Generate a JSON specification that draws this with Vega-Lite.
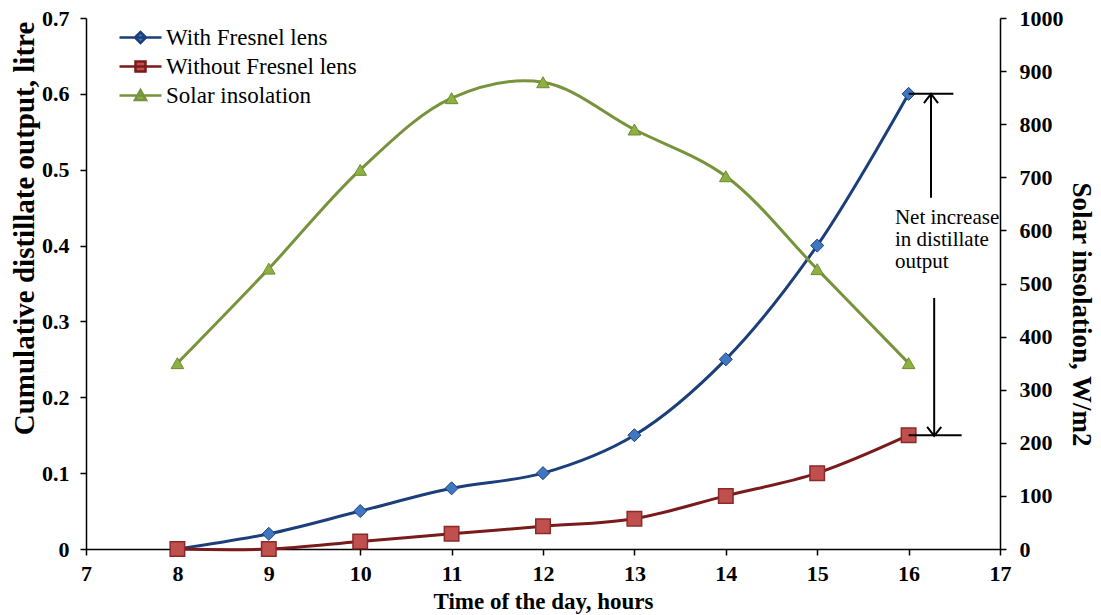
{
  "$schema": "https://vega.github.io/schema/vega-lite/v6.json",
  "autosize": {"type": "none"},
  "width": 914,
  "height": 531,
  "padding": {"left": 86, "top": 18, "right": 101, "bottom": 66},
  "background": "white",
  "datasets": {
    "main": [
      {"hour": 8, "series": "With Fresnel lens", "value": 0},
      {"hour": 9, "series": "With Fresnel lens", "value": 0.02},
      {"hour": 10, "series": "With Fresnel lens", "value": 0.05},
      {"hour": 11, "series": "With Fresnel lens", "value": 0.08},
      {"hour": 12, "series": "With Fresnel lens", "value": 0.1},
      {"hour": 13, "series": "With Fresnel lens", "value": 0.15},
      {"hour": 14, "series": "With Fresnel lens", "value": 0.25},
      {"hour": 15, "series": "With Fresnel lens", "value": 0.4},
      {"hour": 16, "series": "With Fresnel lens", "value": 0.6},
      {"hour": 8, "series": "Without Fresnel lens", "value": 0},
      {"hour": 9, "series": "Without Fresnel lens", "value": 0},
      {"hour": 10, "series": "Without Fresnel lens", "value": 0.01},
      {"hour": 11, "series": "Without Fresnel lens", "value": 0.02},
      {"hour": 12, "series": "Without Fresnel lens", "value": 0.03},
      {"hour": 13, "series": "Without Fresnel lens", "value": 0.04},
      {"hour": 14, "series": "Without Fresnel lens", "value": 0.07},
      {"hour": 15, "series": "Without Fresnel lens", "value": 0.1},
      {"hour": 16, "series": "Without Fresnel lens", "value": 0.15},
      {"hour": 8, "series": "Solar insolation", "value": 350},
      {"hour": 9, "series": "Solar insolation", "value": 528},
      {"hour": 10, "series": "Solar insolation", "value": 714},
      {"hour": 11, "series": "Solar insolation", "value": 849},
      {"hour": 12, "series": "Solar insolation", "value": 879},
      {"hour": 13, "series": "Solar insolation", "value": 790},
      {"hour": 14, "series": "Solar insolation", "value": 702},
      {"hour": 15, "series": "Solar insolation", "value": 527},
      {"hour": 16, "series": "Solar insolation", "value": 350}
    ],
    "rules": [
      {"hour": 16, "hour2": 16.49, "value": 0.6, "value2": 0.6},
      {"hour": 16, "hour2": 16.58, "value": 0.15, "value2": 0.15},
      {"hour": 16.245, "hour2": 16.245, "value": 0.6, "value2": 0.463},
      {"hour": 16.28, "hour2": 16.28, "value": 0.331, "value2": 0.149}
    ],
    "uphead": [{"hour": 16.245, "value": 0.6}],
    "downhead": [{"hour": 16.28, "value": 0.149}],
    "note": [{"hour": 15.85, "value": 0.451, "label": "Net increase\nin distillate\noutput"}]
  },
  "layer": [
    {
      "layer": [
        {
          "data": {"name": "main"},
          "transform": [{"filter": "datum.series !== 'Solar insolation'"}],
          "mark": {"type": "line", "interpolate": "catmull-rom", "strokeWidth": 3},
          "encoding": {
            "x": {"field": "hour", "type": "quantitative", "scale": {"domain": [7, 17], "nice": false, "zero": false},
                  "axis": {"title": "Time of the day, hours", "values": [7, 8, 9, 10, 11, 12, 13, 14, 15, 16, 17], "format": "d", "labelFlush": false, "labelPadding": 8, "titlePadding": 6, "titleFontSize": 23}},
            "y": {"field": "value", "type": "quantitative", "scale": {"domain": [0, 0.7], "nice": false},
                  "axis": {"orient": "left", "title": "Cumulative distillate output, litre", "values": [0, 0.1, 0.2, 0.3, 0.4, 0.5, 0.6, 0.7], "format": ".1~f", "labelFlush": false, "labelPadding": 11, "titlePadding": 2, "titleFontSize": 29, "titleY": 210}},
            "stroke": {"field": "series", "type": "nominal",
                       "scale": {"domain": ["With Fresnel lens", "Without Fresnel lens", "Solar insolation"], "range": ["#1C3F7C", "#7A1A1A", "#77933C"]},
                       "legend": {"orient": "none", "legendX": 43, "legendY": 8, "title": null, "labelFont": "Liberation Serif", "labelFontSize": 23, "labelColor": "black", "labelLimit": 400, "symbolSize": 100, "labelOffset": 14, "rowPadding": 5, "padding": 0, "symbolStrokeWidth": 2.5,
                                  "encode": {"symbols": {"update": {"fill": {"scale": "fill", "field": "value"}, "stroke": {"scale": "stroke", "field": "value"}, "opacity": {"value": 1}}}}}}
          }
        },
        {
          "data": {"name": "main"},
          "transform": [{"filter": "datum.series === 'With Fresnel lens'"}],
          "mark": {"type": "point", "shape": "diamond", "filled": true, "opacity": 1, "size": 170, "fill": "#3F78C0", "stroke": "#1C3F7C", "strokeWidth": 1},
          "encoding": {
            "x": {"field": "hour", "type": "quantitative"},
            "y": {"field": "value", "type": "quantitative"}
          }
        },
        {
          "data": {"name": "main"},
          "transform": [{"filter": "datum.series === 'Without Fresnel lens'"}],
          "mark": {"type": "point", "shape": "square", "filled": true, "opacity": 1, "size": 210, "fill": "#C0504D", "stroke": "#8B2A2A", "strokeWidth": 1.5},
          "encoding": {
            "x": {"field": "hour", "type": "quantitative"},
            "y": {"field": "value", "type": "quantitative"}
          }
        },
        {
          "data": {"name": "main"},
          "transform": [{"filter": "datum.series !== 'Solar insolation'"}],
          "mark": {"type": "point", "filled": true, "opacity": 0, "size": 10},
          "encoding": {
            "x": {"field": "hour", "type": "quantitative"},
            "y": {"field": "value", "type": "quantitative"},
            "fill": {"field": "series", "type": "nominal",
                     "scale": {"domain": ["With Fresnel lens", "Without Fresnel lens", "Solar insolation"], "range": ["#3F78C0", "#C0504D", "#8DB043"]},
                     "legend": {"orient": "none", "legendX": 43, "legendY": 8, "title": null, "labelFont": "Liberation Serif", "labelFontSize": 23, "labelColor": "black", "labelLimit": 400, "symbolSize": 100, "labelOffset": 14, "rowPadding": 5, "padding": 0, "symbolStrokeWidth": 2.5,
                                "encode": {"symbols": {"update": {"fill": {"scale": "fill", "field": "value"}, "stroke": {"scale": "stroke", "field": "value"}, "opacity": {"value": 1}}}}}},
            "shape": {"field": "series", "type": "nominal",
                      "scale": {"domain": ["With Fresnel lens", "Without Fresnel lens", "Solar insolation"],
                                "range": ["M-4.2,0H4.2M-1.1,0L0,-1.1L1.1,0L0,1.1Z", "M-4.2,0H4.2M-1,-1H1V1H-1Z", "M-4.2,0H4.2M0,-1.1L1.1,0.9H-1.1Z"]},
                      "legend": {"orient": "none", "legendX": 43, "legendY": 8, "title": null, "labelFont": "Liberation Serif", "labelFontSize": 23, "labelColor": "black", "labelLimit": 400, "symbolSize": 100, "labelOffset": 14, "rowPadding": 5, "padding": 0, "symbolStrokeWidth": 2.5,
                                 "encode": {"symbols": {"update": {"fill": {"scale": "fill", "field": "value"}, "stroke": {"scale": "stroke", "field": "value"}, "opacity": {"value": 1}}}}}}
          }
        },
        {
          "data": {"name": "rules"},
          "mark": {"type": "rule", "color": "black", "strokeWidth": 2},
          "encoding": {
            "x": {"field": "hour", "type": "quantitative"},
            "x2": {"field": "hour2"},
            "y": {"field": "value", "type": "quantitative"},
            "y2": {"field": "value2"}
          }
        },
        {
          "data": {"name": "uphead"},
          "mark": {"type": "point", "shape": "M-1,1.3L0,0L1,1.3", "filled": false, "size": 200, "stroke": "black", "strokeWidth": 2, "opacity": 1},
          "encoding": {
            "x": {"field": "hour", "type": "quantitative"},
            "y": {"field": "value", "type": "quantitative"}
          }
        },
        {
          "data": {"name": "downhead"},
          "mark": {"type": "point", "shape": "M-1,-1.3L0,0L1,-1.3", "filled": false, "size": 200, "stroke": "black", "strokeWidth": 2, "opacity": 1},
          "encoding": {
            "x": {"field": "hour", "type": "quantitative"},
            "y": {"field": "value", "type": "quantitative"}
          }
        },
        {
          "data": {"name": "note"},
          "mark": {"type": "text", "align": "left", "baseline": "top", "lineBreak": "\n", "font": "Liberation Serif", "fontSize": 21, "lineHeight": 22, "color": "black"},
          "encoding": {
            "x": {"field": "hour", "type": "quantitative"},
            "y": {"field": "value", "type": "quantitative"},
            "text": {"field": "label"}
          }
        }
      ]
    },
    {
      "layer": [
        {
          "data": {"name": "main"},
          "transform": [{"filter": "datum.series === 'Solar insolation'"}],
          "mark": {"type": "line", "interpolate": "catmull-rom", "strokeWidth": 3},
          "encoding": {
            "x": {"field": "hour", "type": "quantitative"},
            "y": {"field": "value", "type": "quantitative", "scale": {"domain": [0, 1000], "nice": false},
                  "axis": {"orient": "right", "title": "Solar insolation, W/m2", "values": [0, 100, 200, 300, 400, 500, 600, 700, 800, 900, 1000], "format": "d", "labelFlush": false, "labelPadding": 13, "titlePadding": 3, "titleFontSize": 27, "titleY": 296}},
            "stroke": {"field": "series", "type": "nominal"}
          }
        },
        {
          "data": {"name": "main"},
          "transform": [{"filter": "datum.series === 'Solar insolation'"}],
          "mark": {"type": "point", "shape": "triangle-up", "filled": true, "opacity": 1, "size": 160, "fill": "#8DB043", "stroke": "#6E8B30", "strokeWidth": 1},
          "encoding": {
            "x": {"field": "hour", "type": "quantitative"},
            "y": {"field": "value", "type": "quantitative"}
          }
        }
      ]
    }
  ],
  "resolve": {"scale": {"y": "independent"}},
  "config": {
    "view": {"stroke": null},
    "axis": {"grid": false, "domainColor": "black", "domainWidth": 1.5, "tickColor": "black", "tickWidth": 1.5, "tickSize": 6,
             "labelFont": "Liberation Serif", "labelFontSize": 22, "labelFontWeight": "bold", "labelColor": "black",
             "titleFont": "Liberation Serif", "titleFontSize": 23, "titleFontWeight": "bold", "titleColor": "black"}
  }
}
